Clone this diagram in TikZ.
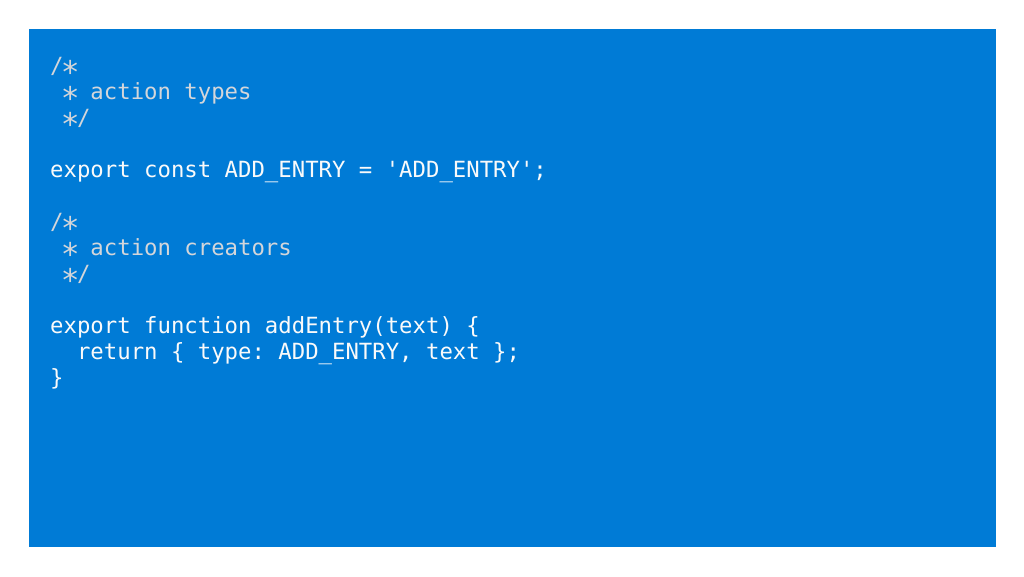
\documentclass[tikz,border=0pt]{standalone}
\usepackage{fontspec}
\setmonofont{DejaVu Sans Mono}
\definecolor{panelblue}{RGB}{0,123,214}
\definecolor{codewhite}{RGB}{250,250,250}
\definecolor{commentgray}{RGB}{212,214,218}
\newcommand{\cstar}{\makebox[0.602em][c]{\raisebox{-0.48em}{\scalebox{1.4}{*}}}}
\begin{document}
\begin{tikzpicture}[x=1pt,y=-1pt,
  code/.style={anchor=base west,inner sep=0pt,text=codewhite,font=\ttfamily\fontsize{22.3}{26}\selectfont},
  comment/.style={code,text=commentgray}]
\useasboundingbox[fill=white] (0,0) rectangle (1024,576);
\fill[panelblue] (29,29) rectangle (996,547);
\node[comment] (l1) at (50,73) {/\cstar};
\node[comment] (l2) at (50,99) {\ \cstar{} action types};
\node[comment] (l3) at (50,125) {\ \cstar/};
\node[code] (l5) at (50,177) {export const ADD\_ENTRY = 'ADD\_ENTRY';};
\node[comment] (l7) at (50,229) {/\cstar};
\node[comment] (l8) at (50,255) {\ \cstar{} action creators};
\node[comment] (l9) at (50,281) {\ \cstar/};
\node[code] (l11) at (50,333) {export function addEntry(text) \{};
\node[code] (l12) at (50,359) {\ \ return \{ type: ADD\_ENTRY, text \};};
\node[code] (l13) at (50,385) {\}};
\end{tikzpicture}
\end{document}
